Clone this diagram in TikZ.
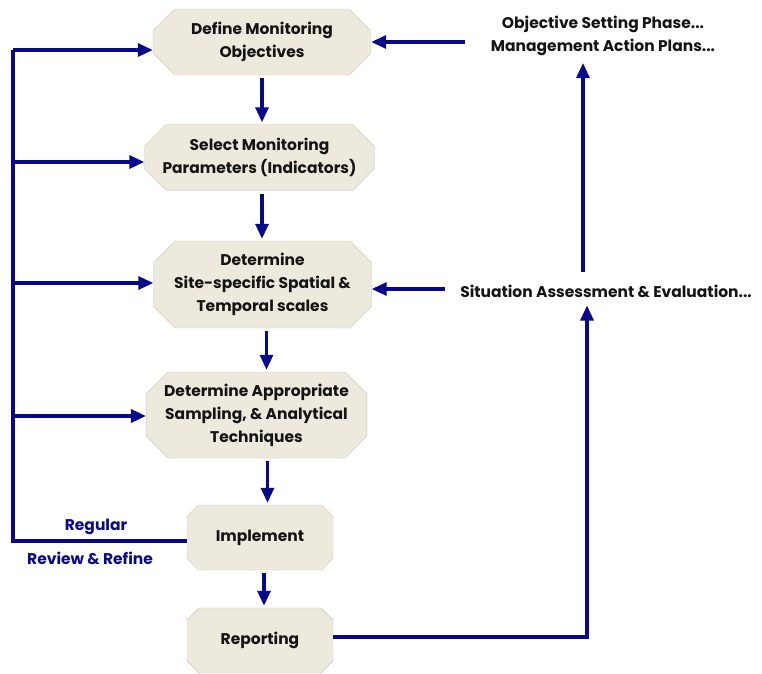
\documentclass[tikz,border=0pt]{standalone}
\usepackage{fontspec}
\setmainfont{Poppins}
\usetikzlibrary{arrows.meta,shapes.misc,calc,positioning}
\definecolor{boxfill}{RGB}{237,234,221}
\definecolor{boxline}{RGB}{200,195,180}
\definecolor{flowblue}{RGB}{8,8,140}
\definecolor{darktext}{RGB}{20,20,20}

\begin{document}
\begin{tikzpicture}[x=1pt, y=-1pt, font=\bfseries\fontsize{15.5}{23}\selectfont]
    \useasboundingbox (0,0) rectangle (762,673);
    \tikzset{StepStyle/.style = {chamfered rectangle,
        chamfered rectangle angle = 45,
        chamfered rectangle xsep = 18pt,
        draw = boxline, fill = boxfill,
        text = darktext, align = center,
        inner sep = 0pt,
        minimum width = 218pt, minimum height = 66pt},
      FlowStyle/.style = {draw = flowblue, line width = 3.2pt,
        -{Triangle[length=15pt,width=13pt]}}}
    \node[StepStyle] (objectives) at (262,42) {Define Monitoring\\Objectives};
    \node[StepStyle] (parameters) at (259.5,157.5) {Select Monitoring\\Parameters (Indicators)};
    \node[StepStyle, minimum height=87pt] (scales) at (262.5,284.5) {Determine\\Site-specific Spatial \&\\Temporal scales};
    \node[StepStyle, minimum height=86pt] (techniques) at (256.5,415) {Determine Appropriate\\Sampling, \& Analytical\\Techniques};
    \node[StepStyle, minimum width=146pt, minimum height=65pt] (implement) at (260,537.5) {Implement};
    \node[StepStyle, minimum width=146pt, minimum height=65pt] (reporting) at (260,640.5) {Reporting};
    \node[text=darktext, align=center, inner sep=1pt] (setting) at (603,36) {Objective Setting Phase...\\Management Action Plans...};
    \node[text=darktext, inner sep=1pt] (assess) at (606,291) {Situation Assessment \& Evaluation...};
    \node[text=flowblue] (regular) at (96,527) {Regular};
    \node[text=flowblue] (refine) at (90,558) {Review \& Refine};
    \coordinate (loop) at (13,541);
    % main sequence
    \draw[FlowStyle] ([yshift=-3pt]objectives.south) -- ([yshift=2pt]objectives.south |- parameters.north);
    \draw[FlowStyle] ([yshift=-3pt]parameters.south -| objectives) -- ([yshift=2pt]objectives |- scales.north);
    \draw[FlowStyle] ([xshift=4pt,yshift=-3pt]scales.south) -- ([xshift=4pt,yshift=2pt]scales.south |- techniques.north);
    \draw[FlowStyle] ([xshift=11pt,yshift=-3pt]techniques.south) -- ([xshift=11pt,yshift=2pt]techniques.south |- implement.north);
    \draw[FlowStyle] ([xshift=4pt,yshift=-3pt]implement.south) -- ([xshift=4pt,yshift=2pt]implement.south |- reporting.north);
    % review loop on the left
    \draw[FlowStyle, -] ([yshift=-3.5pt]implement.west) -- (loop) -- ([yshift=-8pt]loop |- objectives.west);
    \draw[FlowStyle] ([yshift=-8pt]loop |- objectives.west) -- ([yshift=-8pt]objectives.west);
    \draw[FlowStyle] ([yshift=-4.5pt]loop |- parameters.west) -- ([yshift=-4.5pt]parameters.west);
    \draw[FlowStyle] ([yshift=1.5pt]loop |- scales.west) -- ([yshift=1.5pt]scales.west);
    \draw[FlowStyle] ([yshift=-1pt]loop |- techniques.west) -- ([yshift=-1pt]techniques.west);
    % assessment and objective setting on the right
    \draw[FlowStyle] ([xshift=452pt]objectives.east -| loop) -- (objectives.east);
    \draw[FlowStyle] ([xshift=-14pt,yshift=2pt]assess.west) -- ([yshift=2pt]assess.west -| scales.east);
    \draw[FlowStyle] ([xshift=-23pt,yshift=12pt]assess.north) -- ([xshift=-23pt,yshift=-6pt]assess.north |- setting.south);
    \draw[FlowStyle] ([yshift=3.5pt]reporting.east) -| ([xshift=-19pt,yshift=-7pt]assess.south);
\end{tikzpicture}
\end{document}
